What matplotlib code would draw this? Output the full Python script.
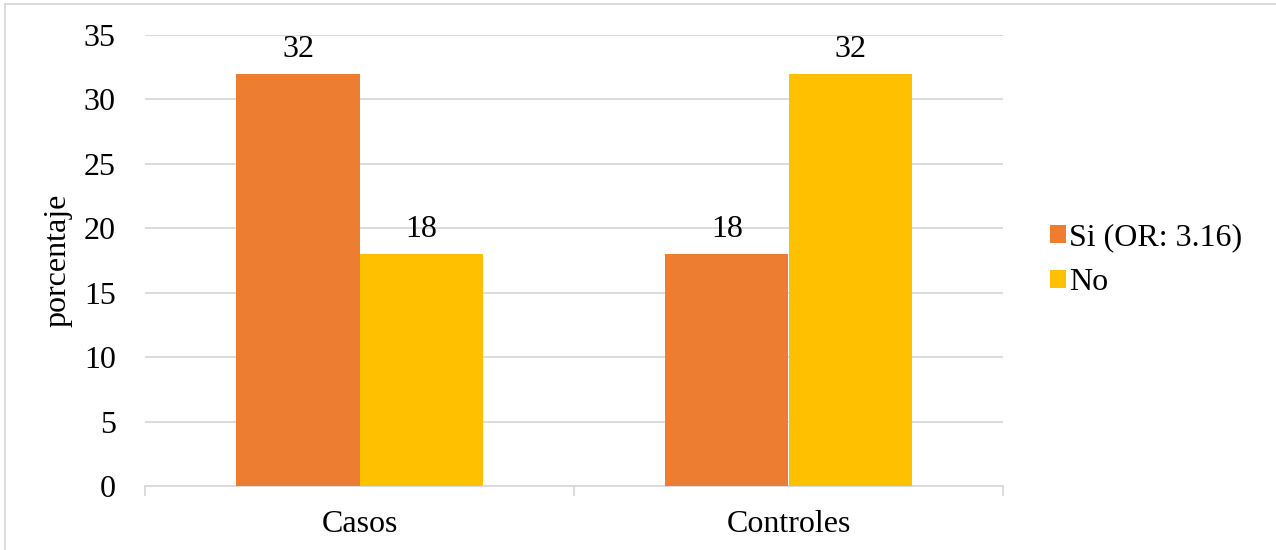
import numpy as np
import matplotlib.pyplot as plt
from matplotlib.lines import Line2D

categories = ['Casos', 'Controles']
si_values = [32, 18]
no_values = [18, 32]
series_labels = ['Si (OR: 3.16)', 'No']

plt.rcParams['font.family'] = ['Liberation Serif', 'DejaVu Serif']
plt.rcParams['font.size'] = 23

fig = plt.figure(figsize=(12.76, 5.5), dpi=100)
ax = fig.add_axes([145 / 1276, 1 - 486 / 550, 858 / 1276, 451 / 550])

x = np.arange(len(categories))
w = 0.287
b1 = ax.bar(x - w / 2, si_values, w, color='#ED7D31', label=series_labels[0], zorder=3)
b2 = ax.bar(x + w / 2, no_values, w, color='#FFC000', label=series_labels[1], zorder=3)

for bars in (b1, b2):
    for rect in bars:
        h = rect.get_height()
        ax.text(rect.get_x() + rect.get_width() / 2, h + 0.75, f'{h:g}',
                ha='center', va='bottom', fontsize=23)

ax.set_xlim(-0.5, 1.5)
ax.set_ylim(0, 35)
ax.set_yticks(range(0, 36, 5))
ax.grid(axis='y', color='#D9D9D9', linewidth=1.3, zorder=0)
ax.set_xticks([-0.5, 0.5, 1.5], minor=False)
ax.set_xticklabels([])
ax.set_xticks(x, minor=True)
ax.set_xticklabels(categories, minor=True)
ax.tick_params(axis='x', which='major', length=7, color='#D9D9D9', width=1.3, direction='out')
ax.tick_params(axis='x', which='minor', length=0, pad=17)
ax.tick_params(axis='y', length=0, pad=21)
for side in ('top', 'right', 'left'):
    ax.spines[side].set_visible(False)
ax.spines['bottom'].set_color('#D9D9D9')
ax.spines['bottom'].set_linewidth(1.3)
ax.set_ylabel('porcentaje', fontsize=23, labelpad=8)

ax.legend(loc='center left', bbox_to_anchor=(1.021, 0.5), frameon=False,
          handlelength=0.5, handleheight=0.5, handletextpad=0.1,
          labelspacing=0.5, fontsize=23)

# thin grey frame along top and left of the image
fig.add_artist(Line2D([5 / 1276, 1], [1 - 4 / 550, 1 - 4 / 550], color='#D9D9D9', lw=1.3))
fig.add_artist(Line2D([5 / 1276, 5 / 1276], [0, 1 - 4 / 550], color='#D9D9D9', lw=1.3))

fig.savefig('out.png', dpi=100)
